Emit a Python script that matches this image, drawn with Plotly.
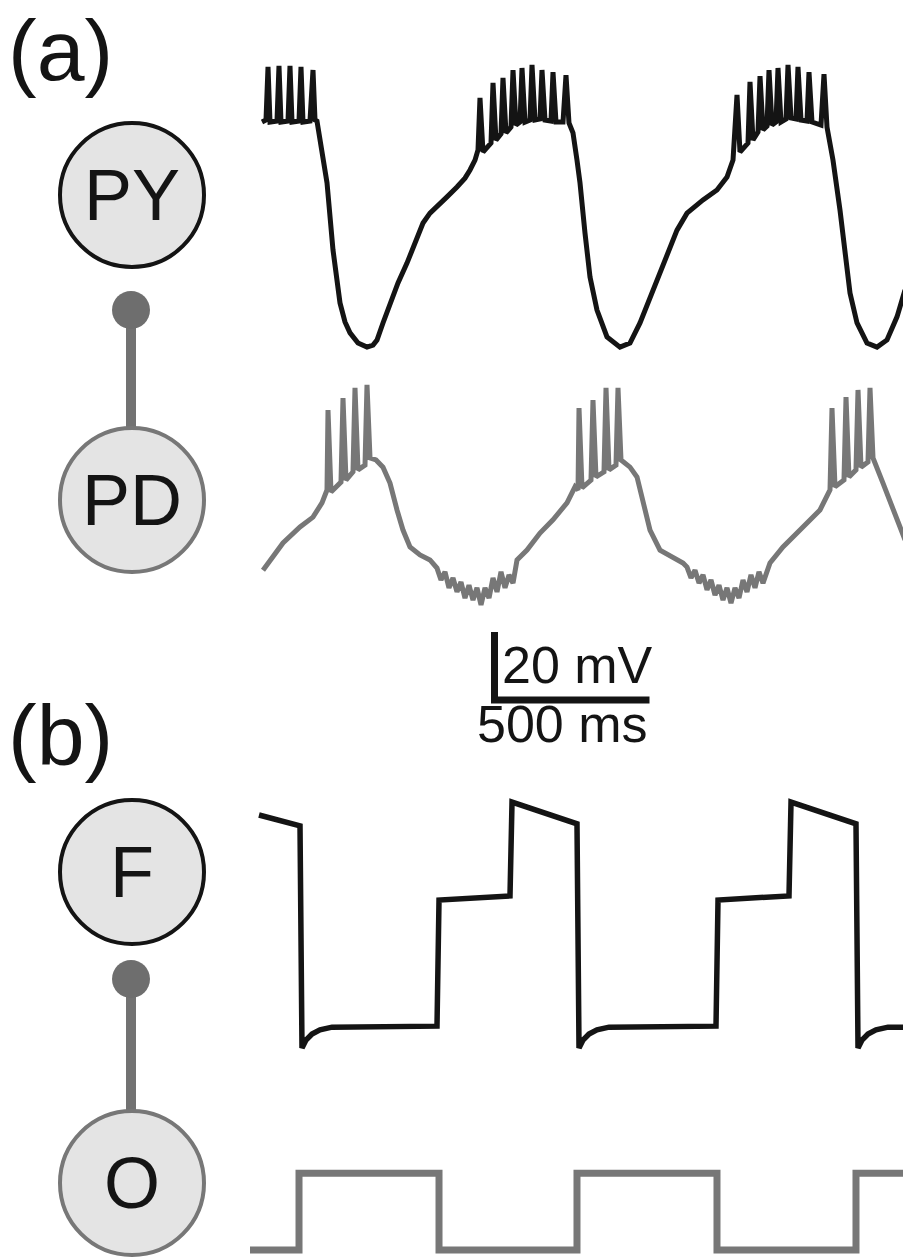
import plotly.graph_objects as go

W, H = 903, 1258
MS_PER_PX = 500.0 / 155.0      # horizontal scale (500 ms bar)
PX_PER_MV = 3.4                # vertical scale (20 mV bar)
T0_PX = 262                    # pixel column of t = 0

# ---------------- (a) PY neuron, membrane potential ----------------
py_t = [0, 12.9, 19.4, 25.8, 48.4, 54.8, 61.3, 83.9, 90.3, 96.8, 119.4, 125.8, 132.3, 154.8, 164.5, 171.0, 177.4,
        193.5, 209.7, 229.0, 241.9, 251.6, 267.7, 283.9, 309.7, 338.7, 358.1, 371.0, 390.3, 412.9, 438.7, 467.7,
        493.5, 519.4, 541.9, 564.5, 596.8, 629.0, 654.8, 671.0, 687.1, 696.8,
        703.2, 712.9, 738.7, 745.2, 754.8, 771.0, 777.4, 787.1, 803.2, 809.7, 819.4, 832.3, 838.7, 848.4, 864.5,
        871.0, 880.6, 896.8, 903.2, 912.9, 932.3, 938.7, 948.4, 971.0, 980.6, 990.3,
        1003.2, 1016.1, 1025.8, 1041.9, 1058.1, 1080.6, 1112.9, 1154.8, 1187.1, 1219.4, 1261.3, 1306.5, 1338.7,
        1371.0, 1422.6, 1467.7, 1500.0, 1519.4,
        1532.3, 1541.9, 1567.7, 1574.2, 1583.9, 1600.0, 1606.5, 1616.1, 1629.0, 1635.5, 1645.2, 1658.1, 1664.5,
        1674.2, 1690.3, 1696.8, 1706.5, 1722.6, 1729.0, 1738.7, 1758.1, 1764.5, 1774.2, 1803.2, 1812.9, 1822.6,
        1841.9, 1864.5, 1880.6, 1896.8, 1919.4, 1951.6, 1983.9, 2016.1, 2048.4, 2074.2]
py_v = [-20.6, -20.0, -4.4, -20.6, -20.3, -4.1, -20.6, -20.3, -4.1, -20.6, -20.3, -4.4, -20.6, -20.3, -5.3, -20.0, -20.3,
        -28.8, -38.5, -58.2, -68.5, -73.8, -79.4, -82.6, -85.6, -86.8, -86.2, -84.7, -79.7, -73.8, -67.9, -62.1,
        -56.2, -50.3, -47.4, -45.6, -42.6, -39.7, -37.1, -34.7, -31.8, -28.8,
        -13.5, -29.4, -26.8, -9.1, -25.9, -24.1, -7.6, -23.8, -22.1, -5.3, -21.5, -20.6, -4.7, -20.6, -20.0,
        -3.8, -20.0, -19.7, -5.3, -20.0, -20.3, -5.9, -20.6, -20.6, -6.8, -20.9,
        -23.8, -31.8, -38.5, -53.2, -66.2, -75.9, -83.8, -86.8, -85.6, -79.7, -70.0, -60.3, -52.4,
        -47.4, -43.5, -40.6, -36.8, -31.8,
        -12.6, -29.4, -26.8, -8.8, -25.9, -23.5, -7.1, -22.9, -21.8, -5.3, -21.5, -20.6, -4.7,
        -20.6, -19.7, -3.8, -19.4, -19.7, -4.4, -20.0, -20.3, -5.9, -20.6, -21.5, -6.5, -22.1,
        -31.8, -46.5, -60.3, -70.9, -79.7, -85.6, -86.8, -84.7, -77.9, -70.0]

# ---------------- (a) PD neuron, membrane potential ----------------
pd_t = [3.2, 67.7, 122.6, 164.5, 193.5, 209.7, 212.9, 222.6, 254.8, 261.3, 271.0, 293.5, 300.0, 309.7, 332.3,
        338.7, 348.4, 367.7, 390.3, 412.9, 435.5, 454.8, 477.4, 509.7, 541.9,
        564.5, 577.4, 590.3, 603.2, 616.1, 629.0, 641.9, 654.8, 667.7, 680.6, 693.5, 706.5, 719.4, 732.3,
        745.2, 758.1, 771.0, 783.9, 796.8, 809.7,
        822.6, 854.8, 896.8, 938.7, 983.9, 1009.7,
        1019.4, 1022.6, 1032.3, 1061.3, 1067.7, 1077.4, 1103.2, 1109.7, 1119.4, 1141.9, 1148.4, 1158.1,
        1187.1, 1209.7, 1229.0, 1251.6, 1283.9, 1325.8, 1358.1,
        1371.0, 1383.9, 1396.8, 1409.7, 1422.6, 1435.5, 1448.4, 1461.3, 1474.2, 1487.1, 1500.0, 1512.9,
        1525.8, 1538.7, 1551.6, 1564.5, 1577.4, 1590.3, 1603.2, 1616.1,
        1638.7, 1680.6, 1745.2, 1800.0, 1832.3,
        1838.7, 1848.4, 1877.4, 1883.9, 1893.5, 1916.1, 1922.6, 1932.3, 1954.8, 1961.3, 1971.0,
        2003.2, 2035.5, 2074.2]
pd_v = [-72.4, -64.4, -59.7, -56.8, -52.6, -48.8, -25.3, -49.4, -46.5, -21.8, -45.9, -43.5, -18.8, -42.9, -41.5,
        -17.9, -39.4, -40.0, -42.1, -46.8, -54.7, -60.6, -65.6, -67.9, -69.4,
        -71.8, -75.3, -72.9, -77.6, -74.7, -78.8, -75.9, -80.6, -76.8, -81.2, -77.6, -82.6, -77.6, -80.6,
        -74.7, -78.8, -72.9, -77.6, -73.8, -76.2,
        -69.4, -66.5, -61.5, -57.6, -52.6, -47.9,
        -48.8, -24.7, -48.2, -45.9, -22.4, -45.0, -43.5, -18.8, -42.9, -41.5, -18.8, -40.0,
        -42.1, -45.0, -52.6, -60.6, -66.5, -68.5, -70.3,
        -71.5, -74.7, -72.4, -76.2, -73.8, -78.2, -75.3, -79.7, -76.8, -81.2, -77.6, -82.1,
        -77.6, -80.6, -75.3, -78.8, -73.8, -77.6, -72.9, -76.2,
        -70.3, -65.6, -59.7, -54.7, -48.8,
        -24.7, -47.9, -45.9, -21.5, -45.0, -42.9, -19.4, -42.1, -40.6, -18.8, -39.4,
        -46.8, -54.7, -63.5]

# ---------------- (b) F and O traces ----------------
f_t = [-9.7, 122.6, 129.0, 141.9, 161.3, 187.1, 225.8, 564.5, 571.0, 800.0, 806.5,
       1016.1, 1022.6, 1035.5, 1054.8, 1080.6, 1119.4, 1464.5, 1471.0, 1700.0, 1706.5,
       1916.1, 1922.6, 1935.5, 1954.8, 1980.6, 2019.4, 2074.2]
f_v = [-15.0, -18.2, -83.5, -81.2, -79.4, -78.2, -77.4, -77.1, -40.0, -38.8, -11.2,
       -17.6, -83.5, -81.2, -79.4, -78.2, -77.4, -77.1, -40.0, -38.8, -11.2,
       -17.6, -83.5, -81.2, -79.4, -78.2, -77.4, -77.4]

o_t = [-38.7, 119.4, 119.4, 571.0, 571.0, 1016.1, 1016.1, 1467.7, 1467.7, 1916.1, 1916.1, 2074.2]
o_v = [-60.0, -60.0, -37.4, -37.4, -60.0, -60.0, -37.4, -37.4, -60.0, -60.0, -37.4, -37.4]

# scale bar: 20 mV / 500 ms
bar_t = [750, 750, 1250]
bar_v = [20, 0, 0]

panel_labels = ["(a)", "(b)"]
node_labels = ["PY", "PD", "F", "O"]
bar_labels = ["20 mV", "500 ms"]

BLACK = "#141414"
GREY = "#777777"
FONT = "Liberation Sans, Arial, sans-serif"


def band(top, bottom, ref_px, ref_v):
    return dict(domain=[1 - bottom / H, 1 - top / H],
                range=[ref_v - (bottom - ref_px) / PX_PER_MV, ref_v + (ref_px - top) / PX_PER_MV],
                visible=False, fixedrange=True, anchor="x")


fig = go.Figure()


def add(t, v, yax, color, width):
    fig.add_trace(go.Scatter(x=t, y=v, yaxis=yax, mode="lines",
                             line=dict(color=color, width=width), hoverinfo="skip"))


add(py_t, py_v, "y", BLACK, 5)
add(pd_t, pd_v, "y2", GREY, 5)
add(f_t, f_v, "y3", BLACK, 5.5)
add(o_t, o_v, "y4", GREY, 7)
add(bar_t, bar_v, "y5", BLACK, 7)


def px(x):
    return x / W


def py(y):
    return 1 - y / H


shapes = []
nodes = [(132, 195, BLACK), (132, 500, GREY), (132, 872, BLACK), (132, 1183, GREY)]
R = 72
# synapse stems and dots
for (y_dot, y_end) in [(310, 430), (979, 1112)]:
    shapes.append(dict(type="line", xref="paper", yref="paper", x0=px(131), x1=px(131),
                       y0=py(y_dot), y1=py(y_end), line=dict(color="#727272", width=10)))
    shapes.append(dict(type="circle", xref="paper", yref="paper", x0=px(131 - 19), x1=px(131 + 19),
                       y0=py(y_dot + 19), y1=py(y_dot - 19), fillcolor="#6e6e6e", line=dict(width=0)))
for (cx, cy, col) in nodes:
    shapes.append(dict(type="circle", xref="paper", yref="paper", x0=px(cx - R), x1=px(cx + R),
                       y0=py(cy + R), y1=py(cy - R), fillcolor="#e4e4e4", line=dict(color=col, width=4)))

annotations = []
annotations.append(dict(text=panel_labels[0], xref="paper", yref="paper", x=px(6), y=1.0, xanchor="left",
                        yanchor="top", showarrow=False, font=dict(family=FONT, size=86, color=BLACK)))
annotations.append(dict(text=panel_labels[1], xref="paper", yref="paper", x=px(6), y=py(735), xanchor="left",
                        yanchor="middle", showarrow=False, font=dict(family=FONT, size=86, color=BLACK)))
for lab, (cx, cy, col) in zip(node_labels, nodes):
    annotations.append(dict(text=lab, xref="paper", yref="paper", x=px(cx), y=py(cy), xanchor="center",
                            yanchor="middle", showarrow=False, font=dict(family=FONT, size=72, color=BLACK)))
annotations.append(dict(text=bar_labels[0], xref="paper", yref="paper", x=px(500), y=py(665), xanchor="left",
                        yanchor="middle", showarrow=False, font=dict(family=FONT, size=52, color=BLACK)))
annotations.append(dict(text=bar_labels[1], xref="paper", yref="paper", x=px(562), y=py(724), xanchor="center",
                        yanchor="middle", showarrow=False, font=dict(family=FONT, size=52, color=BLACK)))

fig.update_layout(
    width=W, height=H, margin=dict(l=0, r=0, t=0, b=0),
    paper_bgcolor="white", plot_bgcolor="white", showlegend=False,
    xaxis=dict(domain=[0, 1], range=[-T0_PX * MS_PER_PX, (W - T0_PX) * MS_PER_PX], visible=False, fixedrange=True),
    yaxis=band(40, 380, 120, -20),
    yaxis2=band(370, 625, 460, -40),
    yaxis3=band(780, 1070, 900, -40),
    yaxis4=band(1090, 1258, 1250, -60),
    yaxis5=band(600, 720, 700, 0),
    shapes=shapes, annotations=annotations,
)

fig.write_html("out.html")
